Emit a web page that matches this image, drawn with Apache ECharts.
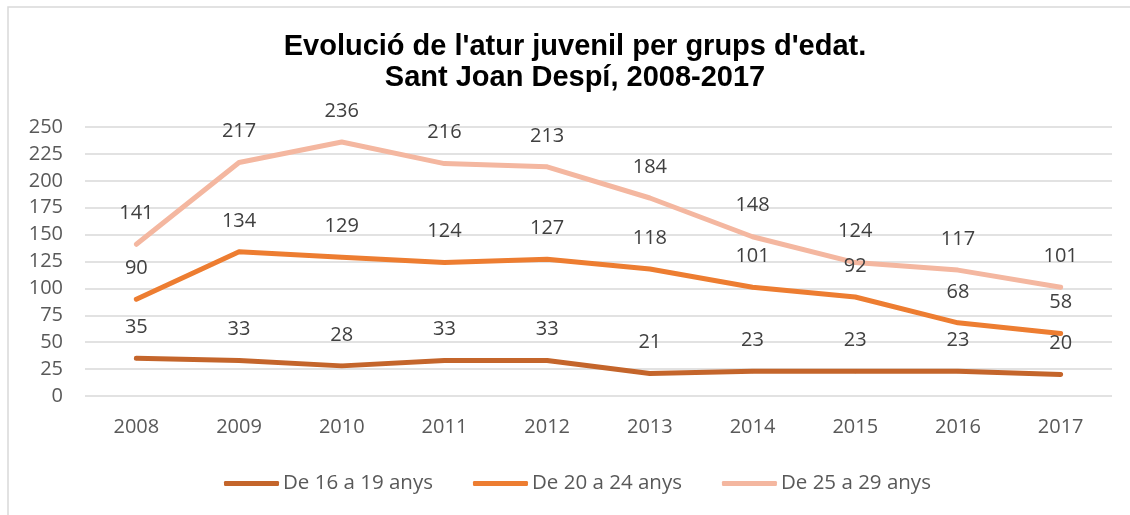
<!DOCTYPE html>
<html>
<head>
<meta charset="utf-8">
<script src="https://cdn.jsdelivr.net/npm/echarts@6/dist/echarts.min.js"></script>
<style>
html,body{margin:0;padding:0;background:#fff;}
#chart{width:1130px;height:515px;}
</style>
</head>
<body>
<div id="chart"></div>
<script>
const years = ['2008','2009','2010','2011','2012','2013','2014','2015','2016','2017'];
const seriesNames = ['De 16 a 19 anys','De 20 a 24 anys','De 25 a 29 anys'];
const age16to19 = [35,33,28,33,33,21,23,23,23,20];
const age20to24 = [90,134,129,124,127,118,101,92,68,58];
const age25to29 = [141,217,236,216,213,184,148,124,117,101];
const titleLines = ["Evolució de l'atur juvenil per grups d'edat.", "Sant Joan Despí, 2008-2017"];

const colors = ['#C4652B','#ED7D31','#F4B7A0'];
const font = '"Open Sans", "Noto Sans", sans-serif';

const chart = echarts.init(document.getElementById('chart'));

function mkSeries(name, data, color) {
  return {
    name: name,
    type: 'line',
    data: data,
    symbol: 'circle',
    symbolSize: 4,
    itemStyle: { color: color },
    lineStyle: { color: color, width: 5, cap: 'round', join: 'round' },
    label: {
      show: true,
      position: 'top',
      distance: 19,
      color: '#404040',
      fontFamily: font,
      fontSize: 20
    },
    emphasis: { disabled: true },
    animation: false
  };
}

chart.setOption({
  backgroundColor: '#fff',
  animation: false,
  graphic: [{
    type: 'rect',
    shape: { x: 8, y: 7, width: 1140, height: 530 },
    style: { fill: 'none', stroke: '#D9D9D9', lineWidth: 1.5 },
    silent: true
  }],
  title: {
    text: titleLines.join('\n'),
    left: 570,
    textAlign: 'center',
    top: 26,
    textStyle: {
      fontFamily: '"Liberation Sans", Arial, sans-serif',
      fontWeight: 'bold',
      fontSize: 29,
      lineHeight: 31,
      color: '#000'
    }
  },
  legend: {
    left: 219,
    top: 468,
    itemWidth: 55,
    itemHeight: 5,
    itemGap: 40,
    icon: 'roundRect',
    data: seriesNames,
    textStyle: { fontFamily: font, fontSize: 20.5, color: '#595959', padding: [0,0,0,-1] }
  },
  grid: { left: 85, right: 18, top: 127, bottom: 119, containLabel: false },
  xAxis: {
    type: 'category',
    data: years,
    boundaryGap: true,
    axisLine: { show: false },
    axisTick: { show: false },
    axisLabel: { margin: 21, fontFamily: font, fontSize: 20, color: '#595959' }
  },
  yAxis: {
    type: 'value',
    min: 0,
    max: 250,
    interval: 25,
    axisLine: { show: false },
    axisTick: { show: false },
    splitLine: { lineStyle: { color: '#D9D9D9', width: 1.5 } },
    axisLabel: { margin: 22, fontFamily: font, fontSize: 20, color: '#595959' }
  },
  series: [
    mkSeries(seriesNames[0], age16to19, colors[0]),
    mkSeries(seriesNames[1], age20to24, colors[1]),
    mkSeries(seriesNames[2], age25to29, colors[2])
  ]
});
</script>
</body>
</html>
